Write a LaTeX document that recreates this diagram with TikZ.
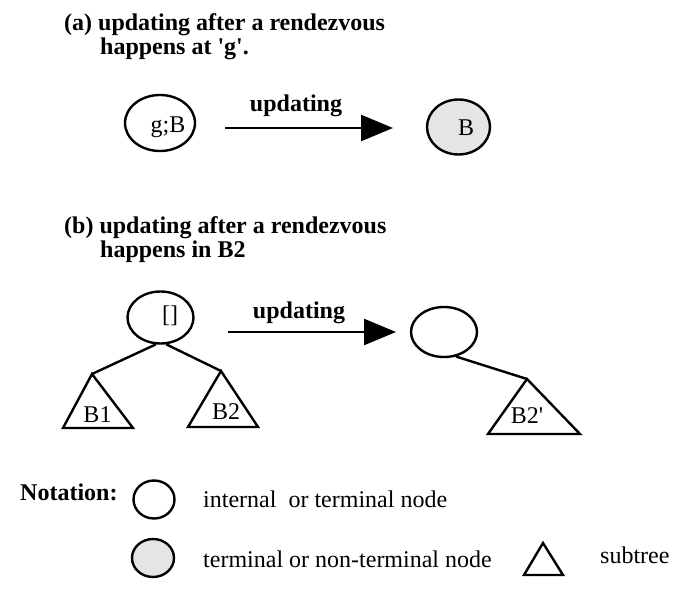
\documentclass[tikz,border=0pt]{standalone}
\usepackage{fontspec}
\setmainfont{Liberation Serif}
\usetikzlibrary{shapes.geometric,arrows.meta}
\begin{document}
\begin{tikzpicture}[x=1pt,y=-1pt,line width=2.4pt,
  every node/.style={inner sep=0pt,font=\fontsize{24}{26}\selectfont},
  heading/.style={anchor=base west,font=\fontsize{24}{26}\selectfont\bfseries},
  firstline/.style={heading,text depth=3pt},
  secondline/.style={heading,text height=17pt},
  lbl/.style={anchor=base},
  txt/.style={anchor=base west},
  oval/.style 2 args={ellipse,draw,minimum width=#1,minimum height=#2},
  shaded/.style={fill=black!10},
  update/.style={-{Triangle[length=32pt,width=26pt]}}]
\useasboundingbox (0,0) rectangle (679,593);

% (a) a rendezvous at 'g'
\node[firstline] (ta1) at (63,31) {(a) updating after a rendezvous};
\node[secondline] (ta2) at (99,55) {happens at \textquotesingle g\textquotesingle.};
\node[oval={70pt}{56pt}] (ga) at (160,123) {};
\node[lbl] (gal) at (168,133) {g;B};
\node[oval={63pt}{55pt},shaded] (ba) at (458.5,127) {};
\node[lbl] (bal) at (466,136) {B};
\coordinate (as) at (225,128);
\coordinate (ae) at (393,128);
\draw[update] (as) -- (ae);
\node[lbl,font=\fontsize{24}{26}\selectfont\bfseries] (ua) at (296,112) {updating};

% (b) a rendezvous inside B2
\node[firstline] (tb1) at (63,234) {(b) updating after a rendezvous};
\node[secondline] (tb2) at (99,258) {happens in B2};
\node[oval={66pt}{52pt}] (tree) at (160.5,317.5) {};
\node[lbl] (treel) at (170,322) {[]};
\coordinate (b1) at (92,374);
\coordinate (b2) at (221,371);
\draw (b1) -- (63,428) -- (133,428) -- cycle;
\draw (b2) -- (188,427) -- (258,427) -- cycle;
\node[lbl] (b1l) at (97.5,422) {B1};
\node[lbl] (b2l) at (226,419) {B2};
\draw (tree.260) -- (b1);
\draw (tree.282) -- (b2);

\coordinate (bs) at (228,332);
\coordinate (be) at (396,332);
\draw[update] (bs) -- (be);
\node[lbl,font=\fontsize{24}{26}\selectfont\bfseries] (ub) at (299,318) {updating};

\node[oval={66pt}{50pt}] (rtree) at (444,332) {};
\coordinate (b2p) at (527,379);
\draw (b2p) -- (488,434) -- (580,434) -- cycle;
\node[lbl] (b2pl) at (527,423) {B2\textquotesingle};
\draw (rtree.296) -- (b2p);

% notation
\node[heading] (nt) at (19,500) {Notation:};
\node[oval={41pt}{38pt}] (nw) at (154,499.5) {};
\node[txt] (nwl) at (202,507) {internal\ \ or terminal node};
\node[oval={42pt}{38pt},shaded] (ng) at (153,558) {};
\node[txt] (ngl) at (202,567) {terminal or non-terminal node};
\coordinate (nta) at (543,543);
\draw (nta) -- (524,575) -- (563,575) -- cycle;
\node[txt] (ntl) at (599,563) {subtree};
\end{tikzpicture}
\end{document}
